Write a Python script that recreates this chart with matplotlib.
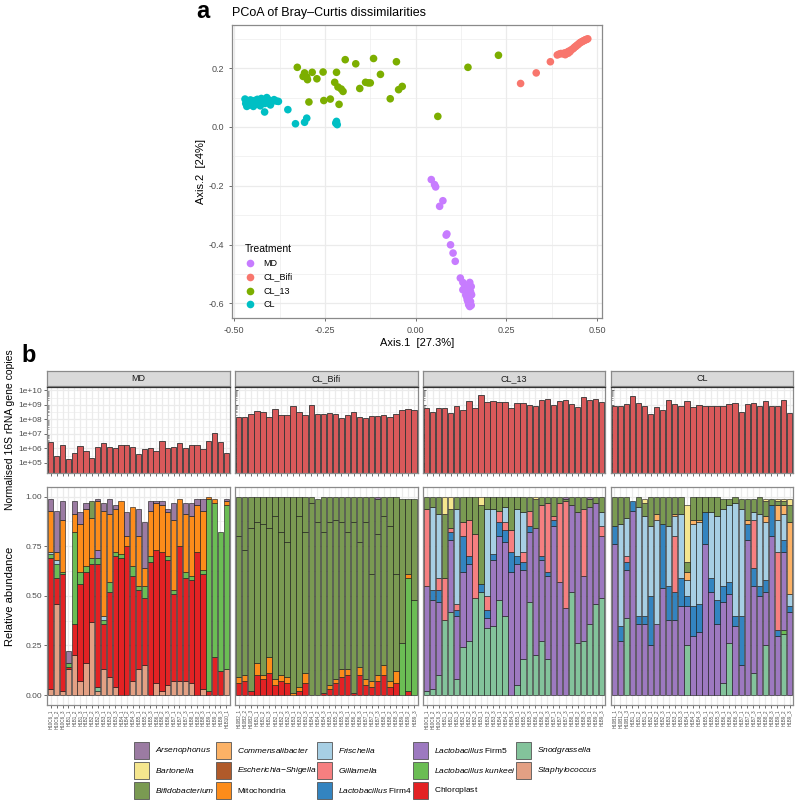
import numpy as np
import matplotlib
matplotlib.use("Agg")
import matplotlib.pyplot as plt
from matplotlib import font_manager
from matplotlib.patches import Rectangle
from matplotlib.lines import Line2D

plt.rcParams['font.family'] = ['Liberation Sans', 'DejaVu Sans']

# legend uses a narrow face when it is installed
try:
    font_manager.findfont("Liberation Sans Narrow", fallback_to_default=False)
    LEG_FONT = "Liberation Sans Narrow"
    LEG_SIZE = 7.2
except ValueError:
    LEG_FONT = "Liberation Sans"
    LEG_SIZE = 6.0
plt.rcParams['mathtext.fontset'] = 'custom'
plt.rcParams['mathtext.it'] = LEG_FONT + ':italic'
plt.rcParams['mathtext.rm'] = LEG_FONT

# ---------------- panel a : PCoA points ----------------
treatments = ["MD", "CL_Bifi", "CL_13", "CL"]
treat_colors = ["#C77CFF", "#F8766D", "#7CAE00", "#00BFC4"]

md_pc1 = [0.043, 0.052, 0.055, 0.075, 0.066, 0.086, 0.084, 0.096, 0.103, 0.109, 0.123, 0.130, 0.149, 0.135, 0.140, 0.144,
          0.151, 0.138, 0.147, 0.142, 0.149, 0.153, 0.146, 0.151, 0.130, 0.153, 0.151, 0.140, 0.149, 0.144, 0.154]
md_pc2 = [-0.179, -0.196, -0.204, -0.251, -0.270, -0.364, -0.368, -0.401, -0.429, -0.457, -0.514, -0.529, -0.529, -0.543,
          -0.554, -0.565, -0.565, -0.571, -0.582, -0.588, -0.599, -0.607, -0.605, -0.594, -0.554, -0.543, -0.560, -0.577,
          -0.611, -0.594, -0.571]
bifi_pc1 = [0.289, 0.332, 0.371, 0.390, 0.395, 0.400, 0.405, 0.410, 0.415, 0.418, 0.422, 0.425, 0.428, 0.432, 0.435,
            0.438, 0.441, 0.444, 0.447, 0.450, 0.453, 0.456, 0.459, 0.462, 0.465, 0.468, 0.471, 0.474, 0.412, 0.420]
bifi_pc2 = [0.148, 0.184, 0.222, 0.245, 0.248, 0.250, 0.249, 0.252, 0.250, 0.255, 0.258, 0.256, 0.262, 0.265, 0.268,
            0.272, 0.274, 0.278, 0.280, 0.284, 0.287, 0.289, 0.291, 0.293, 0.295, 0.297, 0.298, 0.300, 0.246, 0.251]
cl13_pc1 = [-0.326, -0.310, -0.306, -0.298, -0.300, -0.285, -0.272, -0.255, -0.218, -0.223, -0.214, -0.205, -0.200, -0.194,
            -0.165, -0.154, -0.138, -0.131, -0.125, -0.116, -0.097, -0.053, -0.070, -0.047, -0.037, -0.294, -0.253,
            -0.235, -0.211, 0.061, 0.144, 0.228]
cl13_pc2 = [0.203, 0.172, 0.184, 0.161, 0.170, 0.186, 0.164, 0.187, 0.186, 0.152, 0.136, 0.129, 0.121, 0.229, 0.215, 0.131,
            0.152, 0.150, 0.150, 0.233, 0.179, 0.222, 0.096, 0.127, 0.138, 0.085, 0.090, 0.095, 0.077, 0.036, 0.203, 0.244]
cl_pc1 = [-0.470, -0.468, -0.465, -0.462, -0.458, -0.455, -0.450, -0.447, -0.443, -0.440, -0.436, -0.432, -0.428, -0.425,
          -0.420, -0.415, -0.410, -0.405, -0.400, -0.396, -0.390, -0.383, -0.378, -0.416, -0.352, -0.331, -0.306,
          -0.300, -0.218, -0.216, -0.220]
cl_pc2 = [0.095, 0.080, 0.070, 0.088, 0.075, 0.092, 0.082, 0.070, 0.090, 0.078, 0.094, 0.085, 0.072, 0.097, 0.088, 0.080,
          0.100, 0.092, 0.075, 0.086, 0.093, 0.088, 0.087, 0.051, 0.059, 0.011, 0.016, 0.030, 0.019, 0.008, 0.013]

# ---------------- panel b : 16S copies (top) ----------------
md_copies = [2.6e6, 3e5, 1.8e6, 1.8e5, 4.7e5, 1.5e6, 7e5, 2.3e5, 1.2e6, 2.5e6, 1.2e6, 1.05e6, 1.7e6, 1.8e6, 1.2e6, 3.8e5,
             8.5e5, 1e6, 7e5, 3e6, 1e6, 1.3e6, 2.3e6, 1.1e6, 1.7e6, 1.7e6, 8.5e5, 3e6, 1.1e7, 2.6e6, 4.5e5]
bifi_copies = [1.4e8, 1.55e8, 2.3e8, 3.7e8, 3.2e8, 1.55e8, 5.5e8, 2.1e8, 1.9e8, 8.9e8, 3.4e8, 2.1e8, 9.8e8, 2.5e8, 2.2e8,
               2.8e8, 2.3e8, 1.2e8, 2.1e8, 3.2e8, 1.4e8, 1.2e8, 1.8e8, 1.65e8, 2.1e8, 1.55e8, 2.4e8, 4.6e8, 5.2e8, 4.4e8]
cl13_copies = [6.1e8, 3.2e8, 6.1e8, 6.1e8, 2.7e8, 8.9e8, 4.4e8, 1.8e9, 6.3e8, 4.6e9, 1.5e9, 1.8e9, 1.6e9, 1.5e9, 6.3e8,
               1.4e9, 1.3e9, 9.8e8, 8.9e8, 2.1e9, 2.7e9, 1.0e9, 1.8e9, 2.3e9, 1.1e9, 6.7e8, 3.6e9, 2.2e9, 2.6e9, 1.6e9]
cl_copies = [8.5e8, 8.9e8, 1.1e9, 3.8e9, 1.4e9, 8.9e8, 2.5e8, 7.0e8, 4.6e8, 2.1e9, 1.1e9, 7.7e8, 1.7e9, 7.0e8, 1.05e9,
             7.7e8, 7.7e8, 7.7e8, 8.5e8, 1.2e9, 1.3e9, 3.1e8, 1.2e9, 1.4e9, 8.5e8, 1.9e9, 7.7e8, 7.7e8, 2.3e9, 2.7e8]

# ---------------- panel b : relative abundance (bottom) ----------------
# MD (31 samples)
md_staph = [.03, .46, .02, .13, .20, .07, .16, .37, .02, .13, .09, .04, 0, 0, .07, .13, .15, 0, .06, .02, .05, .07, .07,
            .07, .06, 0, .03, 0, 0, 0, .13]
md_snod = [0, 0, 0, 0, 0, 0, 0, 0, .02, 0, 0, 0, 0, 0, 0, 0, 0, 0, 0, 0, 0, 0, 0, 0, 0, 0, 0, 0, 0, 0, 0]
md_chloro = [.66, .13, .59, .01, .16, .49, .46, .29, .62, .23, .43, .66, .69, .75, .53, .40, .34, .67, .67, .70, .63, .44,
             .68, .52, .52, .72, .58, .02, .19, .12, 0]
md_kunk = [.02, .07, .01, .02, .46, .06, .03, .03, .03, .02, .05, .02, .02, 0, .05, .02, .06, .03, 0, 0, .02, .02, 0, .03,
           .02, 0, .02, .97, .78, .70, .83]
md_firm5 = [0, 0, 0, 0, 0, 0, 0, 0, .04, 0, 0, 0, 0, 0, 0, 0, 0, 0, 0, 0, 0, 0, 0, 0, 0, 0, 0, 0, 0, 0, 0]
md_frisch = [.01, .02, 0, 0, 0, 0, 0, 0, 0, .02, 0, 0, 0, 0, 0, 0, 0, 0, 0, 0, 0, 0, 0, 0, 0, 0, 0, 0, 0, 0, 0]
md_mito = [.21, .04, .26, 0, .09, .24, .29, .20, .25, .53, .34, .22, .27, .05, .30, .25, .09, .23, .24, .24, .22, .35,
           .24, .29, .30, .24, .30, .01, .02, 0, .02]
md_bifido = [0, 0, 0, 0, 0, 0, 0, .09, 0, 0, 0, 0, 0, 0, 0, 0, 0, 0, 0, 0, 0, 0, 0, 0, 0, 0, 0, 0, 0, 0, 0]
md_arseno = [.06, .21, .10, .06, .07, .06, .03, 0, .01, .04, .08, .02, 0, .12, 0, .14, .23, .05, .01, .02, .02, .09, 0,
             .06, .07, .03, .06, 0, 0, 0, .01]

# CL_Bifi (30 samples); Bifidobacterium split in its two main OTUs
bifi_chloro = [.06, .07, .02, .10, .08, .11, .05, .07, .06, 0, .02, .06, 0, 0, .01, .03, .06, .09, .10, .01, .10, .05,
               .04, .07, .10, .04, .06, 0, .02, 0]
bifi_kunk = [0] * 27 + [.26, .57, .48]
bifi_mito = [.03, .03, 0, .06, .02, .08, .03, .03, .03, .01, .02, .05, 0, 0, 0, .02, .02, .04, .03, 0, .04, .03, .03,
             .03, .05, .03, .06, 0, .02, 0]
bifi_bifido1 = [.71, .63, .82, .71, .76, .65, .82, .72, .68, .99, .86, .71, .97, .87, .81, .82, .80, .74, .69, .86, .63,
                .79, .54, .71, .75, .78, .49, .73, .38, .51]
bifi_bifido2 = [.20, .27, .16, .13, .14, .16, .10, .18, .23, 0, .10, .18, .03, .12, .18, .13, .12, .13, .18, .13, .23,
                .13, .39, .18, .10, .15, .39, 0, 0, 0]
bifi_arseno = [0] * 23 + [.01] + [0] * 6

# CL_13 (30 samples)
cl13_snod = [.02, .03, .10, .38, .42, .08, .24, .27, .49, .52, .34, .35, .48, .40, 0, .05, .18, .47, .20, .27, .18, 0, 0,
             0, .52, .26, .27, .36, .46, .49]
cl13_firm5 = [.53, .45, .37, 0, .36, .32, .38, .39, 0, 0, .05, .33, .32, .37, .62, .61, .45, .35, .64, .41, .42, .85, .57,
              .44, .44, .66, .33, .59, .51, .31]
cl13_firm4 = [0, .05, .06, 0, .04, .03, .18, .04, 0, .04, .04, .03, .07, .06, .10, .04, .04, .03, 0, .02, .02, .03, 0, 0,
              0, 0, 0, 0, 0, 0]
cl13_gilli = [.39, 0, .06, .21, .02, .03, .07, .18, .32, 0, .07, 0, .06, .04, .11, 0, .05, .08, 0, .26, .35, .02, .40,
              .54, 0, 0, .34, 0, 0, .05]
cl13_frisch = [0, .42, .32, 0, 0, .48, 0, 0, 0, 0, .44, .23, 0, .08, 0, .24, .20, 0, 0, 0, 0, 0, 0, 0, 0, 0, 0, 0, 0,
               .07]
cl13_bifido = [.06, .05, .09, .32, .10, .06, .13, .12, .19, .40, .06, .06, .07, .05, .17, .06, .08, .07, .15, .04, .03,
               .10, .03, .01, .04, .08, .06, .04, .03, .08]
cl13_barto = [0, 0, 0, .09, .06, 0, 0, 0, 0, .04, 0, 0, 0, 0, 0, 0, 0, 0, .01, 0, 0, 0, 0, 0, 0, 0, 0, 0, 0, 0]
cl13_arseno = [0] * 23 + [.01, 0, 0, 0, .01, 0, 0]

# CL (30 samples)
cl_snod = [0, 0, .39, 0, 0, 0, 0, 0, 0, 0, 0, 0, .25, 0, 0, 0, 0, 0, .06, .26, 0, 0, 0, .11, 0, .25, 0, 0, .31, 0]
cl_kunk = [0] * 28 + [.02, 0]
cl_firm5 = [.76, .27, .24, .93, .36, .36, .25, .36, .54, .38, .38, .45, .20, .30, .32, .76, .52, .36, .41, .25, .35, .15,
            .78, .44, .50, .27, .80, .30, .39, .42]
cl_firm4 = [.09, .08, .04, .05, .04, .04, .25, 0, .32, .17, .14, .14, .05, .15, .14, .16, .07, .12, .08, .06, .05, .25,
            .08, .09, .05, .06, .16, .03, .06, .03]
cl_gilli = [0, 0, .03, 0, 0, 0, 0, 0, 0, 0, .28, 0, 0, 0, 0, 0, 0, 0, 0, 0, 0, 0, 0, .24, 0, 0, 0, .39, 0, 0]
cl_frisch = [0, .51, .19, 0, .55, .50, .35, .52, 0, .30, .10, .32, .08, .41, .41, 0, .33, .42, .39, .39, .57, .54, 0, .04,
             .36, .29, 0, .16, .13, .06]
cl_commens = [0, 0, 0, 0, 0, 0, 0, .03, 0, 0, .01, 0, .04, .02, .01, 0, 0, 0, 0, 0, 0, 0, .02, 0, 0, .03, 0, .08, .05,
              .36]
cl_bifido = [.15, .14, .11, 0, .05, .07, .15, .09, .14, .15, .09, .09, .05, .12, .12, .08, .08, .10, .05, .03, .03, .05,
             .11, .07, .09, .08, .03, .02, .02, .09]
cl_barto = [0, 0, 0, 0, 0, .02, 0, 0, 0, 0, 0, 0, .29, 0, 0, 0, 0, 0, 0, 0, 0, 0, 0, 0, 0, .01, 0, .01, .01, .03]

# sample labels (tiny rotated tick labels)
md_samples = ["H10C6_1", "H10C6_2", "H10C6_3"] + ["H1B%d_%d" % (i // 3 + 1, i % 3 + 1) for i in range(28)]
bifi_samples = ["H10B2_1", "H10B2_2", "H10B2_3"] + ["H1B%d_%d" % (i // 3 + 1, i % 3 + 1) for i in range(27)]
cl13_samples = ["H10C6_1", "H10C6_2", "H10C6_3"] + ["H1B%d_%d" % (i // 3 + 1, i % 3 + 1) for i in range(27)]
cl_samples = ["H10B1_1", "H10B1_2", "H10B1_3"] + ["H1B%d_%d" % (i // 3 + 1, i % 3 + 1) for i in range(27)]

genus_names = ["Arsenophonus", "Bartonella", "Bifidobacterium", "Commensalibacter", "Escherichia-Shigella",
               "Mitochondria", "Frischella", "Gilliamella", "Lactobacillus Firm4", "Lactobacillus Firm5",
               "Lactobacillus kunkeei", "Chloroplast", "Snodgrassella", "Staphylococcus"]
genus_colors = ["#9b7ba2", "#f5e68e", "#7a9a52", "#fcb266", "#b05a2a", "#fd8c1a", "#a7cfe4", "#f67f80", "#3384c0",
                "#9d79c0", "#6bbd54", "#e32224", "#83c39b", "#e3a084"]
genus_labels = [r"$\it{Arsenophonus}$", r"$\it{Bartonella}$", r"$\it{Bifidobacterium}$", r"$\it{Commensalibacter}$",
                r"$\it{Escherichia{-}Shigella}$", r"$\rm{Mitochondria}$", r"$\it{Frischella}$", r"$\it{Gilliamella}$",
                r"$\it{Lactobacillus}\ \rm{Firm4}$", r"$\it{Lactobacillus}\ \rm{Firm5}$",
                r"$\it{Lactobacillus\ kunkeei}$", r"$\rm{Chloroplast}$", r"$\it{Snodgrassella}$",
                r"$\it{Staphylococcus}$"]
col = dict(zip(genus_names, genus_colors))

# stacks are listed bottom -> top
facets = [
    ("MD", md_copies, md_samples,
     [("Staphylococcus", md_staph), ("Snodgrassella", md_snod), ("Chloroplast", md_chloro),
      ("Lactobacillus kunkeei", md_kunk), ("Lactobacillus Firm5", md_firm5), ("Frischella", md_frisch),
      ("Mitochondria", md_mito), ("Bifidobacterium", md_bifido), ("Arsenophonus", md_arseno)]),
    ("CL_Bifi", bifi_copies, bifi_samples,
     [("Chloroplast", bifi_chloro), ("Lactobacillus kunkeei", bifi_kunk), ("Mitochondria", bifi_mito),
      ("Bifidobacterium", bifi_bifido1), ("Bifidobacterium", bifi_bifido2), ("Arsenophonus", bifi_arseno)]),
    ("CL_13", cl13_copies, cl13_samples,
     [("Snodgrassella", cl13_snod), ("Lactobacillus Firm5", cl13_firm5), ("Lactobacillus Firm4", cl13_firm4),
      ("Gilliamella", cl13_gilli), ("Frischella", cl13_frisch), ("Bifidobacterium", cl13_bifido),
      ("Bartonella", cl13_barto), ("Arsenophonus", cl13_arseno)]),
    ("CL", cl_copies, cl_samples,
     [("Snodgrassella", cl_snod), ("Lactobacillus kunkeei", cl_kunk), ("Lactobacillus Firm5", cl_firm5),
      ("Lactobacillus Firm4", cl_firm4), ("Gilliamella", cl_gilli), ("Frischella", cl_frisch),
      ("Commensalibacter", cl_commens), ("Bifidobacterium", cl_bifido), ("Bartonella", cl_barto)]),
]

W, H = 800, 807
GRID = "#ebebeb"
BORDER = "#8a8a8a"
TICKC = "#4d4d4d"


def box(x0, y0, x1, y1):
    # pixel box (origin top-left) -> figure rect
    return [x0 / W, 1 - y1 / H, (x1 - x0) / W, (y1 - y0) / H]


def fpt(x, y):
    return x / W, 1 - y / H


def style_axes(ax):
    for s in ax.spines.values():
        s.set_color(BORDER)
        s.set_linewidth(0.9)
    ax.tick_params(colors="#333333", labelcolor=TICKC, length=2.5, width=0.5, labelsize=6.5)


fig = plt.figure(figsize=(W / 100, H / 100), dpi=100)

# ================= panel a =================
ax = fig.add_axes(box(232.3, 25, 602.3, 318))
style_axes(ax)
ax.set_xlim(-0.505, 0.514)
ax.set_ylim(-0.65, 0.347)
for v in np.arange(-0.5, 0.51, 0.25):
    ax.axvline(v, color=GRID, lw=0.9, zorder=0)
for v in np.arange(-0.375, 0.51, 0.25):
    ax.axvline(v, color=GRID, lw=0.45, zorder=0)
for v in np.arange(-0.6, 0.31, 0.2):
    ax.axhline(v, color=GRID, lw=0.9, zorder=0)
for v in np.arange(-0.5, 0.31, 0.2):
    ax.axhline(v, color=GRID, lw=0.45, zorder=0)
pcs = [(md_pc1, md_pc2), (bifi_pc1, bifi_pc2), (cl13_pc1, cl13_pc2), (cl_pc1, cl_pc2)]
for (px, py), c in zip(pcs[::-1], treat_colors[::-1]):
    ax.scatter(px, py, s=30, color=c, edgecolors="none", zorder=3)
ax.set_xticks([-0.5, -0.25, 0, 0.25, 0.5])
ax.set_xticklabels(["-0.50", "-0.25", "0.00", "0.25", "0.50"])
ax.set_yticks([-0.6, -0.4, -0.2, 0.0, 0.2])
ax.set_yticklabels(["-0.6", "-0.4", "-0.2", "0.0", "0.2"])
ax.set_xlabel("Axis.1  [27.3%]", fontsize=8, labelpad=2)
ax.set_ylabel("Axis.2  [24%]", fontsize=8, labelpad=2)
fig.text(*fpt(232.3, 13), "PCoA of Bray\u2013Curtis dissimilarities", fontsize=9, ha="left", va="center")
fig.text(*fpt(196, 12), "a", fontsize=17, fontweight="bold", ha="left", va="center")

# legend inside panel a
fig.text(*fpt(245, 248.5), "Treatment", fontsize=7.5, ha="left", va="center")
for i, (t, c) in enumerate(zip(treatments, treat_colors)):
    yy = 263.3 + i * 13.7
    fig.add_artist(Line2D([250 / W], [1 - yy / H], marker="o", ms=5.5, color=c, mec="none", lw=0,
                          transform=fig.transFigure))
    fig.text(*fpt(263.5, yy), t, fontsize=6.5, ha="left", va="center")

# ================= panel b =================
fig.text(*fpt(21, 355), "b", fontsize=17, fontweight="bold", ha="left", va="center")
fig.text(*fpt(10, 430), "Normalised 16S rRNA gene copies", fontsize=7.5, rotation=90, ha="center", va="center")
fig.text(*fpt(10, 596), "Relative abundance", fontsize=8, rotation=90, ha="center", va="center")

fx0 = [47.3, 235.1, 422.9, 610.7]
fw = 182.5
for k, (name, copies, samples, stack) in enumerate(facets):
    x0 = fx0[k]
    x1 = x0 + fw
    n = len(copies)
    xs = np.arange(n)

    # strip
    sax = fig.add_axes(box(x0, 370.7, x1, 386.2))
    sax.set_facecolor("#d9d9d9")
    sax.set_xticks([])
    sax.set_yticks([])
    for s in sax.spines.values():
        s.set_color(BORDER)
        s.set_linewidth(0.9)
    sax.text(0.5, 0.5, name, fontsize=6.5, ha="center", va="center", color="#1a1a1a", transform=sax.transAxes)

    # top: log bars
    at = fig.add_axes(box(x0, 386.7, x1, 473))
    style_axes(at)
    at.spines["top"].set_color("#333333")
    at.set_yscale("log")
    at.set_xlim(-0.6, n - 0.4)
    at.set_ylim(10 ** 4.81, 10 ** 10.25)
    for v in xs:
        at.axvline(v, color=GRID, lw=0.9, zorder=0)
    for e in range(5, 11):
        at.axhline(10.0 ** e, color=GRID, lw=0.9, zorder=0)
        at.axhline(10.0 ** (e + 0.5), color=GRID, lw=0.45, zorder=0)
    at.bar(xs, copies, width=0.9, color="#d9595a", edgecolor="#333333", linewidth=0.6, zorder=2)
    at.set_xticks(xs)
    at.set_xticklabels([])
    at.tick_params(axis="x", length=2, width=0.5)
    at.set_yticks([10.0 ** e for e in range(5, 11)])
    minors = [m * 10.0 ** e for e in range(4, 10) for m in range(2, 10)]
    at.set_yticks(minors, minor=True)
    at.yaxis.set_minor_formatter(plt.NullFormatter())
    at.tick_params(axis="y", which="minor", direction="in", length=1.2, width=0.4, color="#555555")
    if k == 0:
        at.set_yticklabels(["1e+05", "1e+06", "1e+07", "1e+08", "1e+09", "1e+10"])
        at.tick_params(axis="y", which="major", labelsize=6, pad=1)
    else:
        at.set_yticklabels([])
        at.tick_params(axis="y", which="major", direction="in", length=2.5)

    # bottom: stacked relative abundance
    ab = fig.add_axes(box(x0, 486.7, x1, 705))
    style_axes(ab)
    ab.set_xlim(-0.6, n - 0.4)
    ab.set_ylim(-0.05, 1.05)
    for v in xs:
        ab.axvline(v, color=GRID, lw=0.9, zorder=0)
    for v in [0, 0.25, 0.5, 0.75, 1.0]:
        ab.axhline(v, color=GRID, lw=0.9, zorder=0)
    for v in [0.125, 0.375, 0.625, 0.875]:
        ab.axhline(v, color=GRID, lw=0.45, zorder=0)
    base = np.zeros(n)
    for g, vals in stack:
        vals = np.asarray(vals, dtype=float)
        m = vals > 0
        ab.bar(xs[m], vals[m], bottom=base[m], width=0.9, color=col[g], edgecolor="#111111",
               linewidth=0.4, zorder=2)
        base = base + vals
    ab.set_xticks(xs)
    ab.set_xticklabels(samples, rotation=90, fontsize=3.3, color=TICKC)
    ab.tick_params(axis="x", length=2, width=0.5, pad=1)
    ab.set_yticks([0, 0.25, 0.5, 0.75, 1.0])
    if k == 0:
        ab.set_yticklabels(["0.00", "0.25", "0.50", "0.75", "1.00"])
        ab.tick_params(axis="y", labelsize=6, pad=1)
    else:
        ab.set_yticklabels([])
        ab.tick_params(axis="y", length=0)

# legend (5 columns x 3 rows, column-major)
key_x = [134, 216, 317.3, 413.3, 516]
txt_x = [155, 236.7, 338, 434, 536.7]
row_y = [741.7, 761.7, 781.7]
for i, (lab, c) in enumerate(zip(genus_labels, genus_colors)):
    ci, ri = i // 3, i % 3
    kx, ky = key_x[ci], row_y[ri]
    fig.add_artist(Rectangle(fpt(kx, ky + 17), 14.5 / W, 17 / H, facecolor=c, edgecolor="#555555", lw=0.6,
                             transform=fig.transFigure))
    fig.text(*fpt(txt_x[ci], ky + 8.5), lab, fontsize=LEG_SIZE, ha="left", va="center")

fig.savefig("out.png", dpi=100)
